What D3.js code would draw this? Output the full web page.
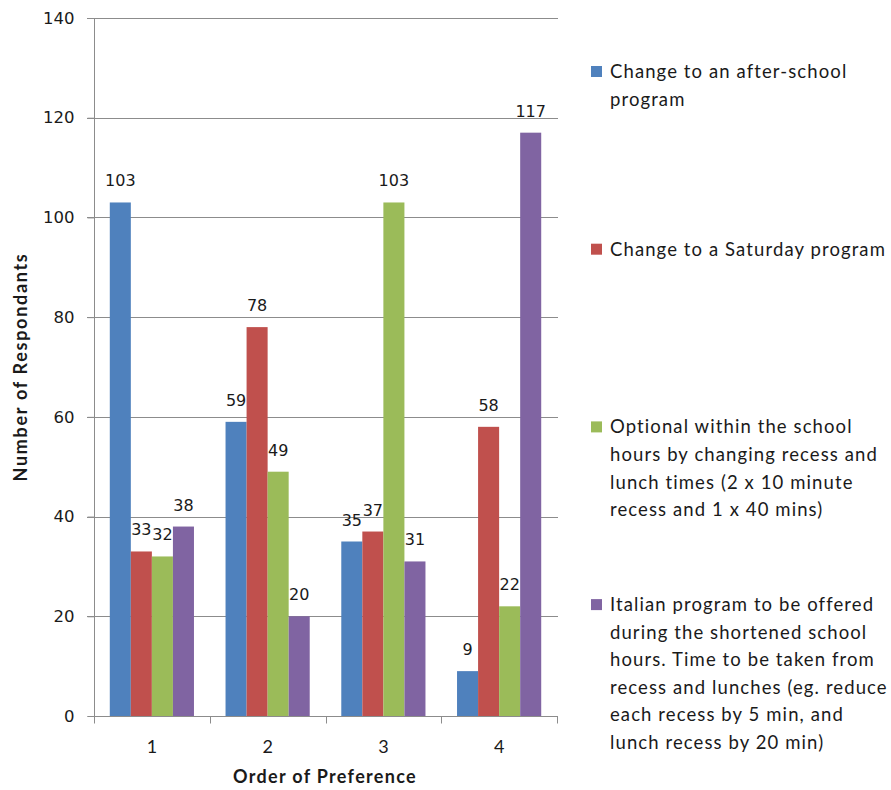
<!DOCTYPE html>
<html>
<head>
<meta charset="utf-8">
<script src="https://cdn.jsdelivr.net/npm/d3@7"></script>
<style>
  body { margin: 0; background: #fff; }
</style>
</head>
<body>
<div class="chart"></div>
<script>
var w = 891;
var h = 790;

// data
var categories = ["1", "2", "3", "4"];
var seriesNames = [
    "Change to an after-school program",
    "Change to a Saturday program",
    "Optional within the school hours by changing recess and lunch times (2 x 10 minute recess and 1 x 40 mins)",
    "Italian program to be offered during the shortened school hours. Time to be taken from recess and lunches (eg. reduce each recess by 5 min, and lunch recess by 20 min)"
];
var legendLines = [
    ["Change to an after-school", "program"],
    ["Change to a Saturday program"],
    ["Optional within the school", "hours by changing recess and", "lunch times (2 x 10 minute", "recess and 1 x 40 mins)"],
    ["Italian program to be offered", "during the shortened school", "hours. Time to be taken from", "recess and lunches (eg. reduce", "each recess by 5 min, and", "lunch recess by 20 min)"]
];
var afterSchool = [103, 59, 35, 9];
var saturday = [33, 78, 37, 58];
var optionalHours = [32, 49, 103, 22];
var italian = [38, 20, 31, 117];
var yTicks = [0, 20, 40, 60, 80, 100, 120, 140];

var values = [afterSchool, saturday, optionalHours, italian];
var colors = ["#4F81BD", "#C0504D", "#9BBB59", "#8064A2"];

var plotL = 94, plotR = 557, plotT = 18, plotB = 716;

var x0 = d3.scaleBand()
            .domain(categories)
            .range([plotL, plotR])
            .padding(0);

var x1 = d3.scaleBand()
            .domain(d3.range(values.length))
            .range([0, x0.bandwidth()])
            .paddingInner(0)
            .paddingOuter(0.75);

var yScale = d3.scaleLinear()
            .domain([0, 140])
            .range([plotB, plotT]);

var svg = d3.select(".chart")
            .append("svg")
            .attr("width", w)
            .attr("height", h);

// gridlines
svg.selectAll("line.grid")
    .data(yTicks.slice(1))
    .enter()
    .append("line")
    .attr("class", "grid")
    .attr("x1", plotL - 7)
    .attr("x2", plotR + 1)
    .attr("y1", function (d) { return Math.round(yScale(d)) + 0.5; })
    .attr("y2", function (d) { return Math.round(yScale(d)) + 0.5; })
    .attr("stroke", "#8c8c8c")
    .attr("stroke-width", 1);

// bars
var rows = [];
categories.forEach(function (c, ci) {
    values.forEach(function (s, si) {
        rows.push({ cat: c, s: si, v: s[ci] });
    });
});

svg.selectAll("rect.bar")
    .data(rows)
    .enter()
    .append("rect")
    .attr("class", "bar")
    .attr("x", function (d) { return x0(d.cat) + x1(d.s); })
    .attr("y", function (d) { return yScale(d.v); })
    .attr("width", x1.bandwidth())
    .attr("height", function (d) { return plotB - yScale(d.v); })
    .attr("fill", function (d) { return colors[d.s]; });

// value labels
svg.selectAll("text.val")
    .data(rows)
    .enter()
    .append("text")
    .attr("class", "val")
    .text(function (d) { return d.v; })
    .attr("text-anchor", "middle")
    .attr("x", function (d) { return x0(d.cat) + x1(d.s) + x1.bandwidth() / 2; })
    .attr("y", function (d) { return yScale(d.v) - 16; })
    .attr("font-family", "DejaVu Sans, sans-serif")
    .attr("font-size", "16px")
    .attr("fill", "#1a1a1a");

// y axis
var yAxis = d3.axisLeft(yScale)
            .tickValues(yTicks)
            .tickSize(7)
            .tickPadding(13);

var gy = svg.append("g")
    .attr("transform", "translate(" + (plotL + 0.5) + ",0)")
    .call(yAxis);
gy.select(".domain").attr("stroke", "#8c8c8c").attr("d", "M-7," + (plotT + 0.5) + "H0V" + (plotB + 0.5) + "H-7");
gy.selectAll(".tick line").attr("stroke", "#8c8c8c");
gy.selectAll(".tick text")
    .attr("font-family", "DejaVu Sans, sans-serif")
    .attr("font-size", "16.5px")
    .attr("fill", "#1a1a1a");

// x axis
var gx = svg.append("g")
    .attr("transform", "translate(0," + (plotB + 0.5) + ")");
gx.append("line")
    .attr("x1", plotL)
    .attr("x2", plotR + 1)
    .attr("stroke", "#8c8c8c");
gx.selectAll("line.tk")
    .data(d3.range(categories.length + 1))
    .enter()
    .append("line")
    .attr("class", "tk")
    .attr("x1", function (i) { return Math.round(plotL + i * x0.step()) + 0.5; })
    .attr("x2", function (i) { return Math.round(plotL + i * x0.step()) + 0.5; })
    .attr("y1", 0)
    .attr("y2", 7)
    .attr("stroke", "#8c8c8c");
gx.selectAll("text")
    .data(categories)
    .enter()
    .append("text")
    .text(function (d) { return d; })
    .attr("text-anchor", "middle")
    .attr("x", function (d) { return x0(d) + x0.bandwidth() / 2; })
    .attr("y", 36)
    .attr("font-family", "Lato, sans-serif")
    .attr("font-size", "18px")
    .attr("fill", "#1a1a1a");

// axis titles
svg.append("text")
    .text("Order of Preference")
    .attr("text-anchor", "middle")
    .attr("x", 325)
    .attr("y", 783)
    .attr("font-family", "Lato, sans-serif")
    .attr("font-weight", "bold")
    .attr("font-size", "18px")
    .attr("letter-spacing", "1.3px")
    .attr("fill", "#1a1a1a");

svg.append("text")
    .text("Number of Respondants")
    .attr("text-anchor", "middle")
    .attr("transform", "translate(27,367) rotate(-90)")
    .attr("font-family", "Lato, sans-serif")
    .attr("font-weight", "bold")
    .attr("font-size", "18px")
    .attr("letter-spacing", "1.7px")
    .attr("fill", "#1a1a1a");

// legend
var legend = svg.selectAll("g.legend")
    .data(legendLines)
    .enter()
    .append("g")
    .attr("class", "legend")
    .attr("transform", function (d, i) { return "translate(591," + (72 + i * 177.7) + ")"; });

legend.append("rect")
    .attr("x", 0)
    .attr("y", -6)
    .attr("width", 11)
    .attr("height", 11)
    .attr("fill", function (d, i) { return colors[i]; });

legend.append("text")
    .attr("font-family", "Lato, sans-serif")
    .attr("font-size", "18.5px")
    .attr("letter-spacing", "1.1px")
    .attr("fill", "#1a1a1a")
    .selectAll("tspan")
    .data(function (d) { return d; })
    .enter()
    .append("tspan")
    .attr("x", 19)
    .attr("y", function (d, i) { return 6 + i * 27.6; })
    .text(function (d) { return d; });
</script>
</body>
</html>
